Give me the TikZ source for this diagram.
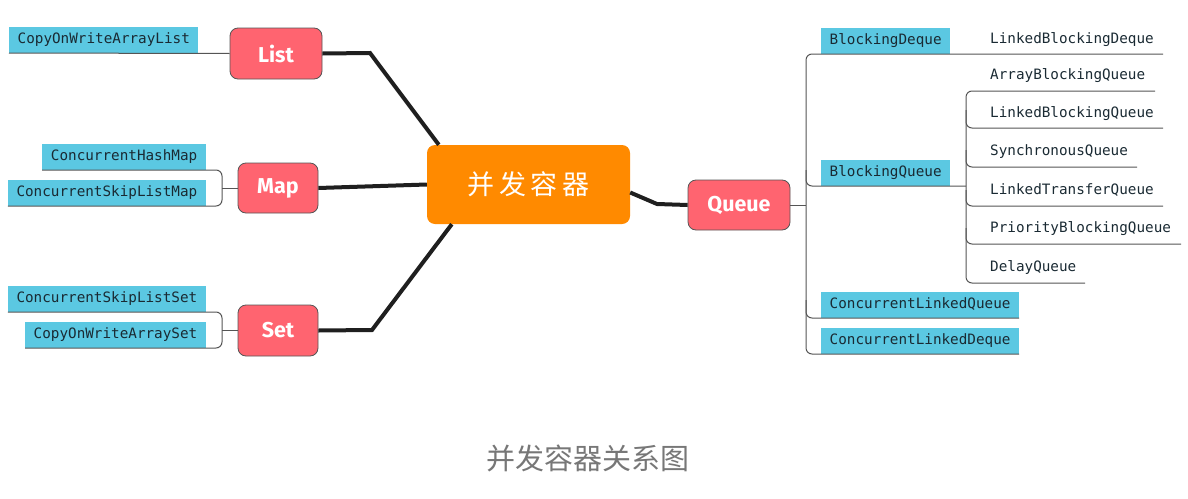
\documentclass[tikz,border=0pt]{standalone}
\usepackage{fontspec}
\setmonofont{DejaVu Sans Mono}
\setsansfont{Fira Sans}
\newfontfamily\cjk{Noto Sans CJK SC}
\newfontfamily\cjksp[LetterSpace=18]{Noto Sans CJK SC}
\usetikzlibrary{calc}
\definecolor{bluefill}{HTML}{5BC8E2}
\definecolor{redfill}{HTML}{FF6470}
\definecolor{orangefill}{HTML}{FF8A00}
\definecolor{txtdark}{HTML}{1A2A33}
\definecolor{capgray}{HTML}{777777}
\definecolor{linegray}{HTML}{555555}
\tikzset{
  bluebox/.style={fill=bluefill, text=txtdark, font=\ttfamily\fontsize{14.3}{16}\selectfont,
    inner xsep=8.5pt, inner ysep=0pt, minimum height=26pt, text height=10pt, text depth=3pt},
  plainlbl/.style={text=txtdark, font=\ttfamily\fontsize{14.3}{16}\selectfont, inner sep=0pt, anchor=west,
    text height=10pt, text depth=3pt},
  redbox/.style={fill=redfill, draw=linegray, line width=0.8pt, rounded corners=8pt, text=white,
    font=\sffamily\bfseries\fontsize{21.5}{23}\selectfont},
  centerbox/.style={fill=orangefill, rounded corners=8pt, text=white, minimum width=203pt, minimum height=79pt,
    font=\cjksp\fontsize{27}{29}\selectfont},
  thickline/.style={line width=4pt, draw=black!88, line join=miter},
  thinline/.style={line width=1pt, draw=linegray, rounded corners=6pt},
}
\begin{document}
\begin{tikzpicture}[x=1pt,y=-1pt]
\useasboundingbox (0,0) rectangle (1188,498);
% center
\node[centerbox] (center) at (528.5,184.5) {并发容器};
% red boxes
\node[redbox, minimum width=92pt, minimum height=51pt] (list) at (276,53.5) {List};
\node[redbox, minimum width=80pt, minimum height=50pt] (map) at (278,188) {Map};
\node[redbox, minimum width=80pt, minimum height=51pt] (set) at (278,330.5) {Set};
\node[redbox, minimum width=102pt, minimum height=50pt] (queue) at (739,205) {Queue};
% left blue boxes
\node[bluebox, anchor=south west] (cowal) at (9,53) {CopyOnWriteArrayList};
\node[bluebox, anchor=south east] (chm) at (206,170) {ConcurrentHashMap};
\node[bluebox, anchor=south east] (cslm) at (206,206) {ConcurrentSkipListMap};
\node[bluebox, anchor=south east] (csls) at (206,312) {ConcurrentSkipListSet};
\node[bluebox, anchor=south east] (cowas) at (206,348) {CopyOnWriteArraySet};
% right blue boxes
\node[bluebox, anchor=south west] (bdq) at (821,54) {BlockingDeque};
\node[bluebox, anchor=south west] (bq) at (821,186) {BlockingQueue};
\node[bluebox, anchor=south west] (clq) at (821,318) {ConcurrentLinkedQueue};
\node[bluebox, anchor=south west] (cld) at (821,354) {ConcurrentLinkedDeque};
% plain labels
\node[plainlbl] (lbd) at (990,40) {LinkedBlockingDeque};
\node[plainlbl] (abq) at (990,76) {ArrayBlockingQueue};
\node[plainlbl] (lbq) at (990,114) {LinkedBlockingQueue};
\node[plainlbl] (sq) at (990,152) {SynchronousQueue};
\node[plainlbl] (ltq) at (990,191) {LinkedTransferQueue};
\node[plainlbl] (pbq) at (990,229) {PriorityBlockingQueue};
\node[plainlbl] (dq) at (990,268) {DelayQueue};
\coordinate (lbdend) at (1163,54);
\coordinate (abqend) at (1155,91);
\coordinate (lbqend) at (1163,128);
\coordinate (sqend) at (1137,167);
\coordinate (ltqend) at (1163,206);
\coordinate (pbqend) at (1181,244);
\coordinate (dqend) at (1085,283);
% thick connectors
\draw[thickline] (list.east) -- (370,53) -- ([xshift=12pt]center.north west);
\draw[thickline] (map.east) -- (center.west);
\draw[thickline] (set.east) -- (372,330) -- ([xshift=25pt]center.south west);
\draw[thickline] ($(center.east)+(0,8)$) -- (657,204) -- (queue.west);
% left thin connectors
\draw[thinline] (cowal.south west) -- (list.west);
\draw[thinline] (chm.south west) -- (222,170) -- (222,206) -- (cslm.south west);
\draw[thinline] (map.west) -- (222,188);
\draw[thinline] (csls.south west) -- (222,312) -- (222,348) -- (cowas.south west);
\draw[thinline] (set.west) -- (222,330.5);
% right thin connectors
\draw[thinline] (queue.east) -- (806,205);
\draw[thinline] (lbdend) -- (806,54) -- (806,354) -- (cld.south east);
\draw[thinline] (806,170) -- (806,186) -- (bq.south east) -- (966,186);
\draw[thinline] (806,300) -- (806,318) -- (clq.south east);
\draw[thinline] (abqend) -- (966,91) -- (966,283) -- (dqend);
\draw[thinline] (966,110) -- (966,128) -- (lbqend);
\draw[thinline] (966,150) -- (966,167) -- (sqend);
\draw[thinline] (966,190) -- (966,206) -- (ltqend);
\draw[thinline] (966,228) -- (966,244) -- (pbqend);
% caption
\node[text=capgray, font=\cjk\fontsize{29}{31}\selectfont, inner sep=0pt] (caption) at (588,458) {并发容器关系图};
\end{tikzpicture}
\end{document}
